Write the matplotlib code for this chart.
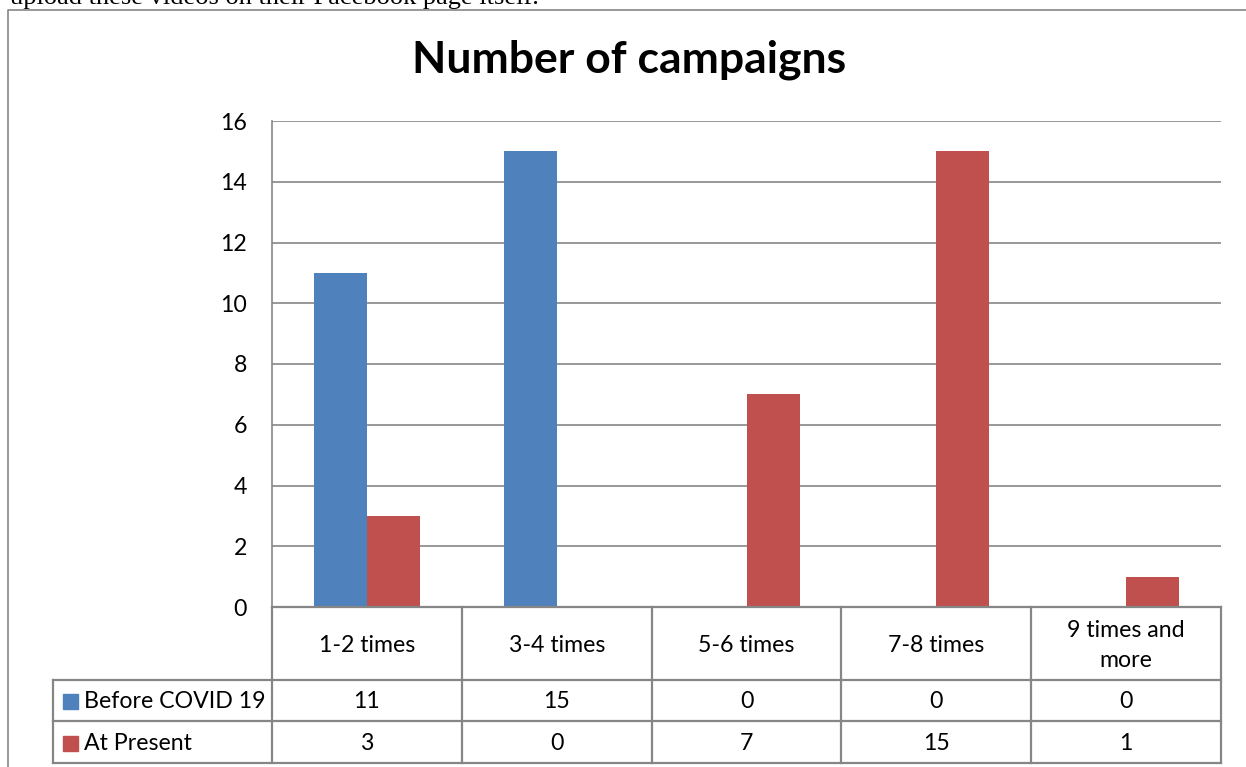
import matplotlib
matplotlib.use("Agg")
import matplotlib.pyplot as plt
from matplotlib.transforms import Affine2D, blended_transform_factory
from matplotlib.lines import Line2D
from matplotlib.patches import Rectangle

# ---- data ----
categories = ["1-2 times", "3-4 times", "5-6 times", "7-8 times", "9 times and\nmore"]
series_names = ["Before COVID 19", "At Present"]
before_covid = [11, 15, 0, 0, 0]
at_present = [3, 0, 7, 15, 1]
y_ticks = [0, 2, 4, 6, 8, 10, 12, 14, 16]
title = "Number of campaigns"
caption = "upload these videos on their Facebook page itself."

BLUE = "#4F81BD"
RED = "#C0504D"
GRID = "#868686"
TEXT = "#000000"
FS = 16.7

plt.rcParams['font.family'] = ['Lato', 'DejaVu Sans']

W, H = 1246, 767
fig = plt.figure(figsize=(W / 100, H / 100), dpi=100)
pix = Affine2D().scale(1 / W, -1 / H).translate(0, 1) + fig.transFigure

# plot area (pixel box: x 272..1221, y 121..607)
L, R, T, B = 272, 1221, 121, 607
ax = fig.add_axes([L / W, 1 - B / H, (R - L) / W, (B - T) / H])
ax.set_xlim(0, len(categories))
ax.set_ylim(0, 16)

bw = 0.28
xs = [i + 0.5 for i in range(len(categories))]
ax.bar([x - bw for x in xs], before_covid, width=bw, align='edge', color=BLUE, zorder=3)
ax.bar(xs, at_present, width=bw, align='edge', color=RED, zorder=3)

ax.set_yticks(y_ticks)
ax.set_yticklabels([str(t) for t in y_ticks], fontsize=FS, color=TEXT)
ax.tick_params(axis='y', length=0, pad=18)
ax.set_xticks([])
ax.grid(axis='y', color=GRID, linewidth=1.2, zorder=0)
for s in ['top', 'right', 'bottom']:
    ax.spines[s].set_visible(False)
ax.spines['left'].set_color(GRID)
ax.spines['left'].set_linewidth(1.2)

# ---- data table below the axis ----
tr = blended_transform_factory(ax.transData, pix)
lw = 1.6
row_y = [607, 680, 721, 763]
leg_left = 53

def hline(x0, x1, y, trans):
    fig.add_artist(Line2D([x0, x1], [y, y], transform=trans, color=GRID, lw=lw))

def vline(x, y0, y1, trans):
    fig.add_artist(Line2D([x, x], [y0, y1], transform=trans, color=GRID, lw=lw))

n = len(categories)
hline(0, n, row_y[0], tr)
for y in row_y[1:]:
    hline(leg_left, R, y, pix)
for i in range(n + 1):
    vline(i, row_y[0], row_y[3], tr)
vline(leg_left, row_y[1], row_y[3], pix)

for i, cat in enumerate(categories):
    fig.text(xs[i], (row_y[0] + row_y[1]) / 2 + 2, cat, transform=tr,
             ha='center', va='center', fontsize=FS, color=TEXT, linespacing=1.5)
    fig.text(xs[i], (row_y[1] + row_y[2]) / 2 + 1, str(before_covid[i]), transform=tr,
             ha='center', va='center', fontsize=FS, color=TEXT)
    fig.text(xs[i], (row_y[2] + row_y[3]) / 2 + 1, str(at_present[i]), transform=tr,
             ha='center', va='center', fontsize=FS, color=TEXT)

for k, (name, col) in enumerate(zip(series_names, [BLUE, RED])):
    yc = (row_y[k + 1] + row_y[k + 2]) / 2 + 1
    fig.add_artist(Rectangle((63, yc - 7.5), 15, 15, transform=pix, color=col))
    fig.text(84, yc, name, transform=pix, ha='left', va='center', fontsize=FS, color=TEXT)

# ---- title, chart frame and surrounding text ----
fig.text(629.5, 72, title, transform=pix, ha='center', va='baseline',
         fontsize=32, fontweight='bold', color=TEXT)
fig.add_artist(Line2D([8, 8, W + 5], [H + 5, 10, 10], transform=pix, color=GRID, lw=1.2))
fig.text(10, 4, caption, transform=pix, ha='left', va='baseline',
         fontsize=19, family='Liberation Serif', color=TEXT)

fig.savefig("out.png", dpi=100, facecolor='white')
